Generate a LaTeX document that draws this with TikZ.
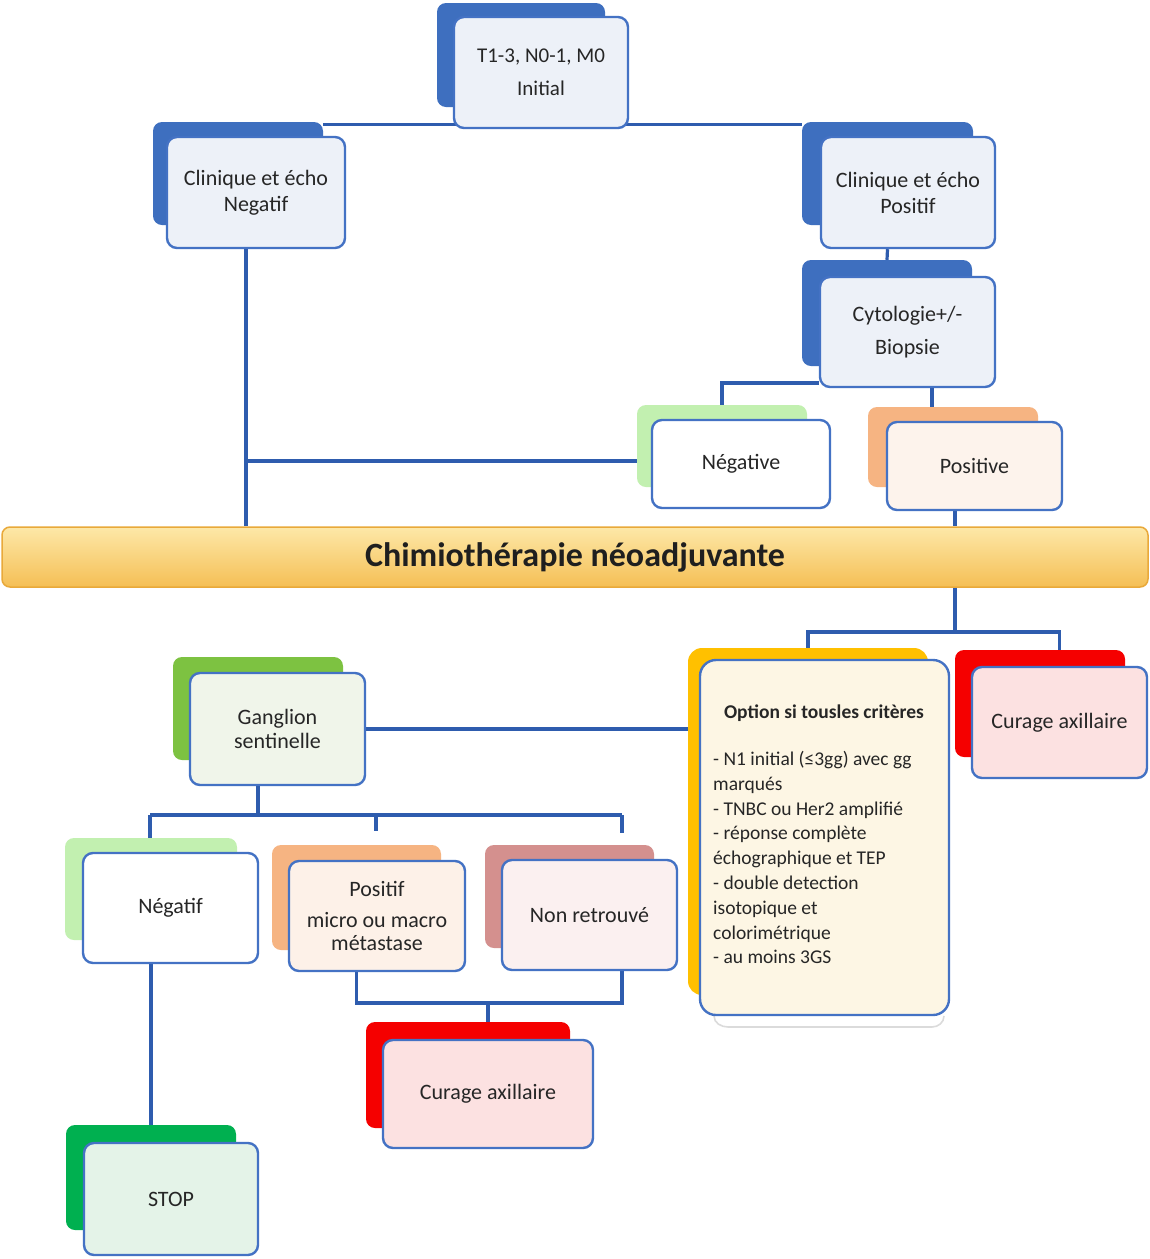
\documentclass[tikz,border=0pt]{standalone}
\usepackage{fontspec}
\setmainfont{Carlito}
\usetikzlibrary{calc}
\pgfdeclarelayer{bg}
\pgfdeclarelayer{canvas}
\pgfsetlayers{canvas,bg,main}
\definecolor{lineblue}{HTML}{2E5CAE}
\definecolor{boxblue}{HTML}{4472C4}
\definecolor{bblue}{HTML}{3E6FBF}
\definecolor{fblue}{HTML}{EDF1F8}
\definecolor{txt}{HTML}{262626}
\definecolor{paleg}{HTML}{C2F0B0}
\definecolor{orangeb}{HTML}{F6B482}
\definecolor{gold}{HTML}{FFC000}
\definecolor{redb}{HTML}{F50000}
\definecolor{greenb}{HTML}{7DC241}
\definecolor{roseb}{HTML}{D4908E}
\definecolor{stopg}{HTML}{00B050}
\definecolor{fpos}{HTML}{FDF3EC}
\definecolor{fopt}{HTML}{FDF6E4}
\definecolor{fred}{HTML}{FCE1E1}
\definecolor{fgan}{HTML}{F0F5EA}
\definecolor{fpf}{HTML}{FDF1E8}
\definecolor{fnr}{HTML}{FBF0F0}
\definecolor{fstop}{HTML}{E4F3E8}
\definecolor{bantop}{HTML}{FDE8A8}
\definecolor{banbot}{HTML}{F5BF55}
\definecolor{banedge}{HTML}{E9A93A}
\begin{document}
\begin{tikzpicture}[x=1pt,y=-1pt,
  conn/.style={draw=lineblue, line width=3.2pt},
  backbox/.style={rounded corners=9pt, inner sep=0pt, draw=none},
  frontbox/.style={rounded corners=10pt, draw=boxblue, line width=2.4pt, inner sep=2pt,
    align=center, text=txt, font=\fontsize{22}{26}\selectfont}]
\useasboundingbox (0,0) rectangle (1150,1259);
\begin{pgfonlayer}{canvas}
\fill[white] (0,0) rectangle (1150,1259);
\end{pgfonlayer}

% top
\node[backbox, fill=bblue, minimum width=168, minimum height=104] (initB) at (521,55) {};
\node[frontbox, fill=fblue, minimum width=174, minimum height=111, font=\fontsize{21}{33}\selectfont] (init) at (541,72.5) {T1-3, N0-1, M0\\Initial};

\node[backbox, fill=bblue, minimum width=170, minimum height=103] (negB) at (238,173.5) {};
\node[frontbox, fill=fblue, minimum width=178, minimum height=111] (negF) at (256,192.5) {Clinique et écho\\Negatif};

\node[backbox, fill=bblue, minimum width=171, minimum height=103] (posB) at (887.5,173.5) {};
\node[frontbox, fill=fblue, minimum width=174, minimum height=111] (posF) at (908,192.5) {Clinique et écho\\Positif};

\node[backbox, fill=bblue, minimum width=170, minimum height=106] (cytoB) at (887,313) {};
\node[frontbox, fill=fblue, minimum width=175, minimum height=110, font=\fontsize{22}{33}\selectfont] (cytoF) at (907.5,332) {Cytologie+/-\\Biopsie};

\node[backbox, fill=paleg, minimum width=170, minimum height=82] (ngvB) at (722,446) {};
\node[frontbox, fill=white, minimum width=178, minimum height=88] (ngvF) at (741,464) {Négative};

\node[backbox, fill=orangeb, minimum width=170, minimum height=80] (posvB) at (953,447) {};
\node[frontbox, fill=fpos, minimum width=175, minimum height=88] (posvF) at (974.5,466) {Positive};

% banner
\node[rounded corners=8pt, draw=banedge, line width=1.5pt, top color=bantop, bottom color=banbot,
  minimum width=1146, minimum height=60, inner sep=0pt, text=black!88,
  font=\fontsize{34}{38}\selectfont\bfseries] (chemo) at (575,557) {Chimiothérapie néoadjuvante};

% option
\draw[black!14, line width=1.6pt] (714,1016) to[out=-90,in=180] (728,1027) -- (932,1027) to[out=0,in=-90] (944,1016);
\node[backbox, fill=gold, rounded corners=14pt, minimum width=240, minimum height=347] (optB) at (808,821.5) {};
\node[frontbox, fill=fopt, rounded corners=16pt, minimum width=249, minimum height=355] (optF) at (824.5,837.5) {};
\node[text=txt, font=\fontsize{19.5}{22}\selectfont\bfseries] (optT) at (824,713) {Option si tousles critères};
\node[text=txt, font=\fontsize{19.5}{24.8}\selectfont, align=left, anchor=north west, inner sep=0pt] (optL) at (713,751)
 {- N1 initial (≤3gg) avec gg\\marqués\\- TNBC ou Her2 amplifié\\- réponse complète\\échographique et TEP\\- double detection\\isotopique et\\colorimétrique\\- au moins 3GS};

\node[backbox, fill=redb, minimum width=170, minimum height=107] (curRB) at (1040,703.5) {};
\node[frontbox, fill=fred, minimum width=175, minimum height=111] (curRF) at (1059.5,722.5) {Curage axillaire};

% sentinel
\node[backbox, fill=greenb, minimum width=170, minimum height=103] (ganB) at (258,708.5) {};
\node[frontbox, fill=fgan, minimum width=175, minimum height=112, font=\fontsize{22}{24}\selectfont] (ganF) at (277.5,729) {Ganglion\\sentinelle};

\node[backbox, fill=paleg, minimum width=172, minimum height=102] (nfB) at (151,889) {};
\node[frontbox, fill=white, minimum width=175, minimum height=110] (nfF) at (170.5,908) {Négatif};

\node[backbox, fill=orangeb, minimum width=169, minimum height=105] (pfB) at (356.5,897.5) {};
\node[frontbox, fill=fpf, minimum width=176, minimum height=110, font=\fontsize{22}{23}\selectfont] (pfF) at (377,916) {Positif\\[8pt]micro ou macro\\métastase};

\node[backbox, fill=roseb, minimum width=169, minimum height=103] (nrB) at (569.5,896.5) {};
\node[frontbox, fill=fnr, minimum width=175, minimum height=110] (nrF) at (589.5,915) {Non retrouvé};

\node[backbox, fill=redb, minimum width=204, minimum height=106] (cbB) at (468,1075) {};
\node[frontbox, fill=fred, minimum width=210, minimum height=108] (cbF) at (488,1094) {Curage axillaire};

\node[backbox, fill=stopg, minimum width=170, minimum height=105] (stB) at (151,1177.5) {};
\node[frontbox, fill=fstop, minimum width=174, minimum height=112] (stF) at (171,1199) {STOP};

% junctions
\coordinate (jNeg) at (246,461);
\coordinate (jCyL) at (722,383);
\coordinate (jCyR) at (932,397);
\coordinate (jPv) at (955,600);
\coordinate (jS) at (955,632);
\coordinate (jGL) at (150,815);
\coordinate (jGM) at (376,815);
\coordinate (jGR) at (622,815);
\coordinate (jB) at (488,1003);
\coordinate (jNR) at (622,1003);

\begin{pgfonlayer}{bg}
\draw[conn] ([yshift=-3pt]negB.north east) -- ([yshift=-3pt]posB.north west);
\draw[conn] (negF.south -| jNeg) -- (chemo.north -| jNeg);
\draw[conn] (jNeg) -- (ngvB.west |- jNeg);
\draw[conn] (posF.south -| posB.center) -- (cytoB.north);
\draw[conn] (cytoF.west |- jCyL) -- (jCyL) -- (ngvB.north -| jCyL);
\draw[conn] (cytoF.south -| jCyR) -- (posvB.north -| jCyR);
\draw[conn] (posvF.south -| jPv) -- (chemo.north -| jPv);
\draw[conn] (chemo.south -| jS) -- (jS);
\draw[conn] (optB.north) -- (optB.north |- jS) -- (jS -| curRF.north) -- (curRB.north -| curRF.north);
\draw[conn] (ganF.east) -- (optB.west |- ganF.east);
\draw[conn] (ganF.south -| ganB.center) -- (ganB.center |- jGL);
\draw[conn] (jGL) -- (jGR);
\draw[conn] (jGL) -- (nfB.north -| jGL);
\draw[conn, shorten >=14pt] (jGM) -- (pfB.north -| jGM);
\draw[conn, shorten >=12pt] (jGR) -- (nrB.north -| jGR);
\draw[conn] (pfF.south -| pfB.center) |- (jNR) -- (nrF.south -| jNR);
\draw[conn] (jB) -- (cbB.north -| jB);
\draw[conn] (nfF.south -| nfB.center) -- (stB.north -| nfB.center);
\end{pgfonlayer}
\end{tikzpicture}
\end{document}
